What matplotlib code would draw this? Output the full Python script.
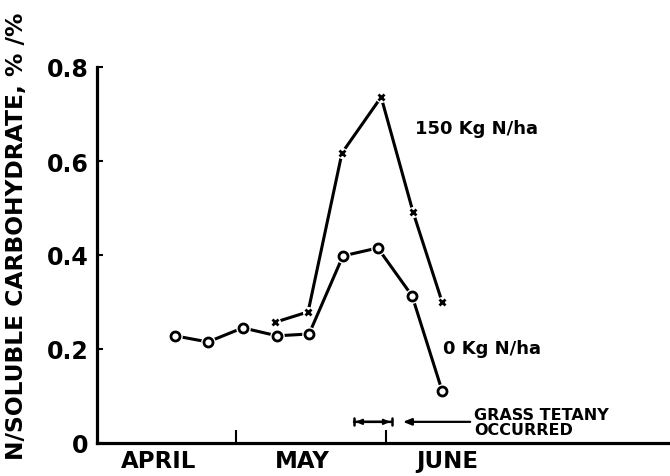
import matplotlib
matplotlib.use("Agg")
import matplotlib.pyplot as plt

# days since April 1 (April 1 = 0)
days_0n = [17.4, 24.2, 31.4, 38.5, 45.1, 52.1, 59.3, 66.4, 72.6]
ratio_0n = [0.228, 0.215, 0.245, 0.228, 0.232, 0.398, 0.415, 0.313, 0.111]
days_150n = [38.1, 44.9, 51.9, 60.0, 66.6, 72.6]
ratio_150n = [0.257, 0.279, 0.617, 0.736, 0.491, 0.300]

month_names = ["APRIL", "MAY", "JUNE"]
month_label_pos = [13.9, 43.8, 73.6]
month_bounds = [30, 61]
yticks = [0, 0.2, 0.4, 0.6, 0.8]
ytick_labels = ["0", "0.2", "0.4", "0.6", "0.8"]
tetany_period = [54.4, 62.2]

plt.rcParams['font.family'] = ['DejaVu Sans']
fig = plt.figure(figsize=(6.70, 4.77), dpi=100)
ax = fig.add_axes([97/670, 33/477, 1 - 97/670, (444-68)/477])
ax.set_xlim(1.27, 119.7)
ax.set_ylim(0, 0.8)

lw = 2.2
# 150 kg line
ax.plot(days_150n, ratio_150n, color='black', lw=lw, zorder=2, solid_capstyle='butt')
ax.plot(days_150n, ratio_150n, ls='none', marker='o', ms=8, mfc='white', mec='none', zorder=3)
ax.plot(days_150n, ratio_150n, ls='none', marker='x', ms=5, mew=2.0, color='black', zorder=4)
# 0 kg line
ax.plot(days_0n, ratio_0n, color='black', lw=lw, zorder=2, solid_capstyle='butt')
ax.plot(days_0n, ratio_0n, ls='none', marker='o', ms=10.5, mfc='white', mec='none', zorder=3)
ax.plot(days_0n, ratio_0n, ls='none', marker='o', ms=6.5, mfc='white', mec='black', mew=2.0, zorder=4)

for s in ['top', 'right']:
    ax.spines[s].set_visible(False)
ax.spines['left'].set_linewidth(2.3)
ax.spines['bottom'].set_linewidth(2.3)

ax.set_yticks(yticks)
ax.set_yticklabels(ytick_labels)
ax.tick_params(axis='y', direction='in', length=4, width=1.5, labelsize=17, pad=6)
for t in ax.get_yticklabels():
    t.set_fontweight('bold')

ax.set_xticks(month_bounds)
ax.set_xticklabels([])
ax.tick_params(axis='x', which='major', direction='in', length=9.5, width=1.5)
ax.set_xticks(month_label_pos, minor=True)
ax.set_xticklabels(month_names, minor=True, fontsize=16.5, fontweight='bold')
ax.tick_params(axis='x', which='minor', length=0, pad=4)

ax.set_ylabel("N/SOLUBLE CARBOHYDRATE, % /%", fontsize=16.8, fontweight='bold')
ax.yaxis.set_label_coords(-0.12, 0.553)

ax.text(66.9, 0.67, "150 Kg N/ha", fontsize=13, fontweight='bold', va='center', ha='left')
ax.text(72.8, 0.203, "0 Kg N/ha", fontsize=13, fontweight='bold', va='center', ha='left')

y_t = 0.045
ax.annotate("", xy=(tetany_period[0], y_t), xytext=(tetany_period[1], y_t),
            arrowprops=dict(arrowstyle='|-|,widthA=0.25,widthB=0.25', lw=1.8, color='black',
                            shrinkA=0, shrinkB=0))
ax.annotate("", xy=(tetany_period[0] + 0.3, y_t), xytext=(tetany_period[1] - 0.3, y_t),
            arrowprops=dict(arrowstyle='<|-|>,head_length=0.35,head_width=0.15', lw=1.5, color='black',
                            shrinkA=0, shrinkB=0))
ax.annotate("", xy=(64.5, y_t), xytext=(78.4, y_t),
            arrowprops=dict(arrowstyle='-|>,head_length=0.5,head_width=0.2', lw=1.6, color='black',
                            shrinkA=0, shrinkB=0))
ax.text(79.2, y_t, "GRASS TETANY\nOCCURRED", fontsize=11.5, fontweight='bold', va='center', ha='left',
        linespacing=1.0)

fig.savefig("out.png", dpi=100)
